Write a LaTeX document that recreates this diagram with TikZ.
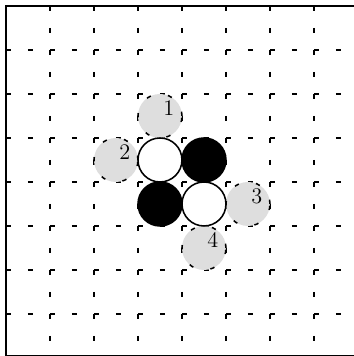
\documentclass[tikz,border=0pt]{standalone}
\definecolor{markfill}{RGB}{222,222,222}

\begin{document}
\begin{tikzpicture}[
  gridline/.style={
    draw=black,
    line width=1.3pt,
    dash pattern=on 0.11cm off 0.39cm
  },
  stone/.style={
    circle,
    draw=black,
    line width=1pt,
    minimum size=1cm,
    inner sep=0pt
  },
  whitestone/.style={stone,fill=white},
  blackstone/.style={stone,fill=black},
  move/.style={
    stone,
    fill=markfill,
    dash pattern=on 0.1cm off 0.4cm
  },
  movelabel/.style={
    font=\Large,
    inner sep=0pt
  }
]

\useasboundingbox (-0.136,0.045) rectangle (7.909,8.136);

% Board edge
\draw[line width=1.5pt] (0,0.052) rectangle (8.6,8);

% Dashed grid
\foreach \i in {1,...,7} {
  \draw[gridline] (0,\i) -- (8,\i);
  \draw[gridline] (\i,8) -- (\i,0);
}

% Candidate moves
\node[move] (m1) at (3.5,5.5) {};
\node[move] (m2) at (2.5,4.5) {};
\node[move] (m3) at (5.5,3.5) {};
\node[move] (m4) at (4.5,2.5) {};

% Stones on the board
\node[whitestone] (w1) at (3.5,4.5) {};
\node[blackstone] (b1) at (4.5,4.5) {};
\node[blackstone] (b2) at (3.5,3.5) {};
\node[whitestone] (w2) at (4.5,3.5) {};

% Move numbers
\node[movelabel] (n1) at ([shift={(0.2,0.18)}]m1.center) {1};
\node[movelabel] (n2) at ([shift={(0.2,0.18)}]m2.center) {2};
\node[movelabel] (n3) at ([shift={(0.2,0.18)}]m3.center) {3};
\node[movelabel] (n4) at ([shift={(0.2,0.18)}]m4.center) {4};

\end{tikzpicture}
\end{document}
